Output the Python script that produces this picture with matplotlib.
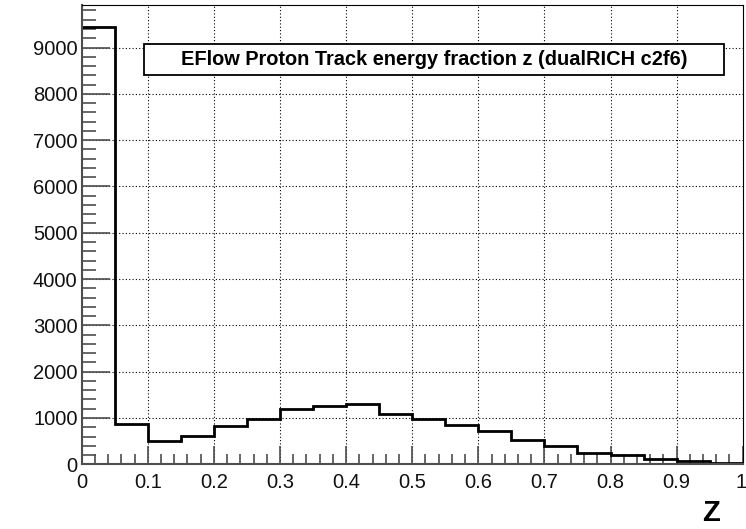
import numpy as np
import matplotlib
matplotlib.use("Agg")
import matplotlib.pyplot as plt
from matplotlib.patches import Rectangle
from matplotlib.ticker import MultipleLocator

plt.rcParams['font.family'] = ['Liberation Sans', 'DejaVu Sans']

# EFlow proton track energy fraction z, 20 bins over [0, 1]
z_lo, z_hi, n_bins = 0.0, 1.0, 20
counts = [9446, 875, 502, 617, 825, 983, 1192, 1263, 1293, 1078,
          983, 847, 718, 530, 401, 244, 194, 114, 78, 22]
title = "EFlow Proton Track energy fraction z (dualRICH c2f6)"
x_title = "Z"

edges = np.linspace(z_lo, z_hi, n_bins + 1)

W, H = 746, 529
fig = plt.figure(figsize=(W / 100, H / 100), dpi=100)
ax = fig.add_axes([81.7 / W, 1 - 464.3 / H, (742.7 - 81.7) / W, (464.3 - 5) / H])

ax.stairs(counts, edges, color='black', linewidth=2.0, baseline=None)

ax.set_xlim(z_lo, z_hi)
ax.set_ylim(0, 1.05 * max(counts))

ax.xaxis.set_major_locator(MultipleLocator(0.1))
ax.xaxis.set_minor_locator(MultipleLocator(0.02))
ax.yaxis.set_major_locator(MultipleLocator(1000))
ax.yaxis.set_minor_locator(MultipleLocator(200))
# the label at z=1 is drawn separately so it stays inside the canvas
ax.xaxis.set_major_formatter(lambda v, p: "0" if v == 0 else ("" if abs(v - 1) < 1e-9 else f"{v:.1f}"))
ax.yaxis.set_major_formatter(lambda v, p: f"{int(v)}")

ax.grid(True, which='major', color='black', linestyle=(0, (1, 2)), linewidth=0.8)
ax.set_axisbelow(True)

gray = '#4d4d4d'
lbl_size = 14.5
ax.tick_params(axis='x', which='major', direction='in', length=13, width=1.2,
               color=gray, labelsize=lbl_size, labelcolor='#111111', pad=6)
ax.tick_params(axis='x', which='minor', direction='in', length=7, width=1.2, color=gray)
ax.tick_params(axis='y', which='major', direction='in', length=20, width=1.2,
               color=gray, labelsize=lbl_size, labelcolor='#111111', pad=3)
ax.tick_params(axis='y', which='minor', direction='in', length=10, width=1.2, color=gray)

ax.annotate("1", xy=(z_hi, 0), xycoords=ax.get_xaxis_transform(),
            xytext=(3, -6), textcoords='offset points', ha='right', va='top',
            fontsize=lbl_size, color='#111111', annotation_clip=False)

ax.spines['left'].set_color(gray)
ax.spines['bottom'].set_color(gray)
ax.spines['left'].set_linewidth(1.5)
ax.spines['bottom'].set_linewidth(1.5)
ax.spines['top'].set_color('black')
ax.spines['right'].set_color('black')

# title box
bx0, bx1, by0, by1 = 144, 724, 44.3, 74.5
fig.add_artist(Rectangle((bx0 / W, 1 - by1 / H), (bx1 - bx0) / W, (by1 - by0) / H,
                         transform=fig.transFigure, facecolor='white',
                         edgecolor='black', linewidth=1.3, zorder=5))
fig.text((bx0 + bx1) / 2 / W, 1 - (by0 + by1) / 2 / H, title, ha='center', va='center',
         fontsize=14.4, fontweight='bold', zorder=6)

fig.text(711 / W, 1 - 513 / H, x_title, ha='center', va='center',
         fontsize=21, fontweight='bold')

fig.savefig("out.png", dpi=100)
